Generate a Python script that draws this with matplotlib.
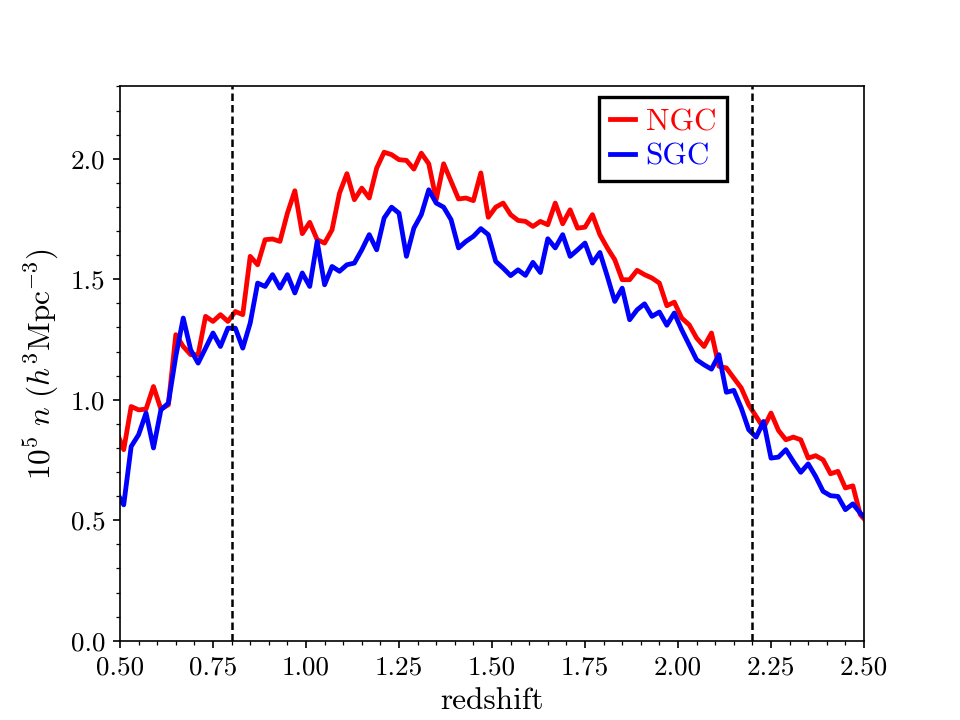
import numpy as np
import matplotlib
matplotlib.use("Agg")
import matplotlib.pyplot as plt
from matplotlib.ticker import MultipleLocator

plt.rcParams['font.family'] = 'serif'
plt.rcParams['font.serif'] = ['cmr10']
plt.rcParams['mathtext.fontset'] = 'cm'
plt.rcParams['axes.formatter.use_mathtext'] = True

# redshift bin centres
redshift = np.round(np.arange(0.49, 2.52, 0.02), 2)

ngc = [0.87, 0.793, 0.972, 0.958, 0.961, 1.055, 0.961, 0.979, 1.27, 1.221,
       1.187, 1.187, 1.346, 1.325, 1.353, 1.325, 1.366, 1.353, 1.595, 1.560,
       1.664, 1.667, 1.657, 1.774, 1.867, 1.689, 1.736, 1.664, 1.650, 1.705,
       1.857, 1.938, 1.830, 1.878, 1.837, 1.961, 2.027, 2.017, 1.996, 1.993,
       1.957, 2.023, 1.979, 1.830, 1.979, 1.906, 1.833, 1.837, 1.826, 1.941,
       1.757, 1.799, 1.816, 1.768, 1.744, 1.740, 1.719, 1.740, 1.726, 1.816,
       1.730, 1.788, 1.712, 1.716, 1.768, 1.685, 1.630, 1.581, 1.498, 1.498,
       1.537, 1.519, 1.505, 1.484, 1.390, 1.405, 1.339, 1.311, 1.256, 1.221,
       1.277, 1.139, 1.132, 1.090, 1.049, 0.979, 0.931, 0.883, 0.945, 0.873,
       0.834, 0.845, 0.834, 0.758, 0.768, 0.751, 0.693, 0.703, 0.634, 0.643,
       0.523, 0.49]

sgc = [0.62, 0.564, 0.806, 0.855, 0.945, 0.80, 0.958, 0.986, 1.18, 1.339,
       1.207, 1.152, 1.214, 1.277, 1.221, 1.297, 1.297, 1.214, 1.318, 1.484,
       1.470, 1.519, 1.463, 1.519, 1.443, 1.526, 1.470, 1.657, 1.477, 1.553,
       1.533, 1.560, 1.567, 1.622, 1.685, 1.622, 1.754, 1.799, 1.774, 1.595,
       1.712, 1.768, 1.871, 1.816, 1.799, 1.747, 1.630, 1.657, 1.678, 1.710,
       1.685, 1.574, 1.546, 1.515, 1.539, 1.516, 1.570, 1.528, 1.668, 1.630,
       1.685, 1.595, 1.622, 1.650, 1.567, 1.611, 1.512, 1.408, 1.463, 1.332,
       1.373, 1.398, 1.346, 1.364, 1.309, 1.360, 1.290, 1.228, 1.166, 1.145,
       1.127, 1.187, 1.031, 1.039, 0.966, 0.876, 0.845, 0.910, 0.758, 0.762,
       0.793, 0.744, 0.699, 0.734, 0.682, 0.620, 0.602, 0.599, 0.544, 0.568,
       0.530, 0.50]

zcuts = [0.8, 2.2]

fig, ax = plt.subplots(figsize=(6.4, 4.8), dpi=150)
ax.plot(redshift, ngc, color='red', lw=2.3, label='NGC')
ax.plot(redshift, sgc, color='blue', lw=2.3, label='SGC')
for z in zcuts:
    ax.axvline(z, color='black', lw=1.2, linestyle=(0, (3, 1.6)))

ax.set_xlim(0.5, 2.5)
ax.set_ylim(0.0, 2.3)
ax.xaxis.set_major_locator(MultipleLocator(0.25))
ax.xaxis.set_minor_locator(MultipleLocator(0.05))
ax.yaxis.set_major_locator(MultipleLocator(0.5))
ax.yaxis.set_minor_locator(MultipleLocator(0.1))
ax.tick_params(labelsize=13)
ax.set_xticklabels([f'{v:.2f}' for v in ax.get_xticks()])
ax.set_yticklabels([f'{v:.1f}' for v in ax.get_yticks()])

ax.set_xlabel('redshift', fontsize=15)
ax.set_ylabel(r'$10^5\ n\ (h^3{\rm Mpc}^{-3})$', fontsize=15)

leg = ax.legend(loc='upper right', bbox_to_anchor=(0.816, 0.98), borderaxespad=0,
                fontsize=15, handlelength=0.8, handletextpad=0.35, labelspacing=0.2,
                borderpad=0.35, fancybox=False, framealpha=1, edgecolor='black')
leg.get_frame().set_linewidth(1.6)
for txt, line in zip(leg.get_texts(), leg.get_lines()):
    txt.set_color(line.get_color())

fig.savefig('out.png', dpi=150)
